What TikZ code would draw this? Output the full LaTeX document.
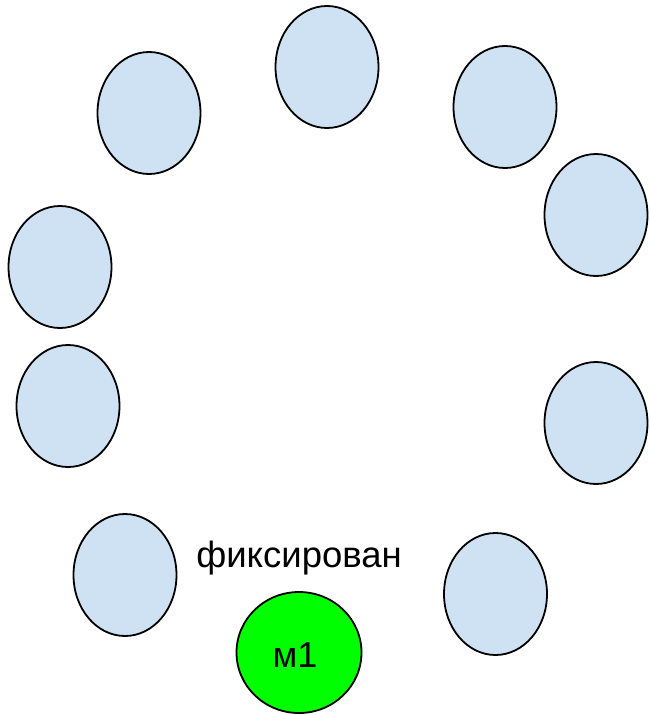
\documentclass[tikz,border=0pt]{standalone}
\usepackage{fontspec}
\setmainfont{Liberation Sans}
\usetikzlibrary{shapes.geometric}
\definecolor{paleblue}{HTML}{CFE2F3}
\definecolor{brightgreen}{HTML}{00FF00}
\begin{document}
\begin{tikzpicture}[x=1pt,y=-1pt,
  seat/.style={ellipse, draw=black, line width=1.8pt, fill=paleblue, inner sep=0pt, minimum width=103pt, minimum height=122pt},
  fixed/.style={ellipse, draw=black, line width=1.8pt, fill=brightgreen, inner sep=0pt, minimum width=125pt, minimum height=121pt},
  lbl/.style={inner sep=0pt, anchor=base}]
\useasboundingbox (0,0) rectangle (649,715);
\node[seat] (s1) at (327,67) {};
\node[seat] (s2) at (149,113) {};
\node[seat] (s3) at (505,107) {};
\node[seat] (s4) at (596,215) {};
\node[seat] (s5) at (60,267) {};
\node[seat] (s6) at (68,406) {};
\node[seat] (s7) at (596,423) {};
\node[seat] (s8) at (125,575) {};
\node[seat] (s9) at (495.5,594) {};
\node[fixed] (m1) at (299,652.5) {};
\node[lbl, font=\fontsize{36}{42}\selectfont] (m1t) at (295,667) {м1};
\node[lbl, font=\fontsize{36.5}{42}\selectfont] (fix) at (299,567) {фиксирован};
\end{tikzpicture}
\end{document}
